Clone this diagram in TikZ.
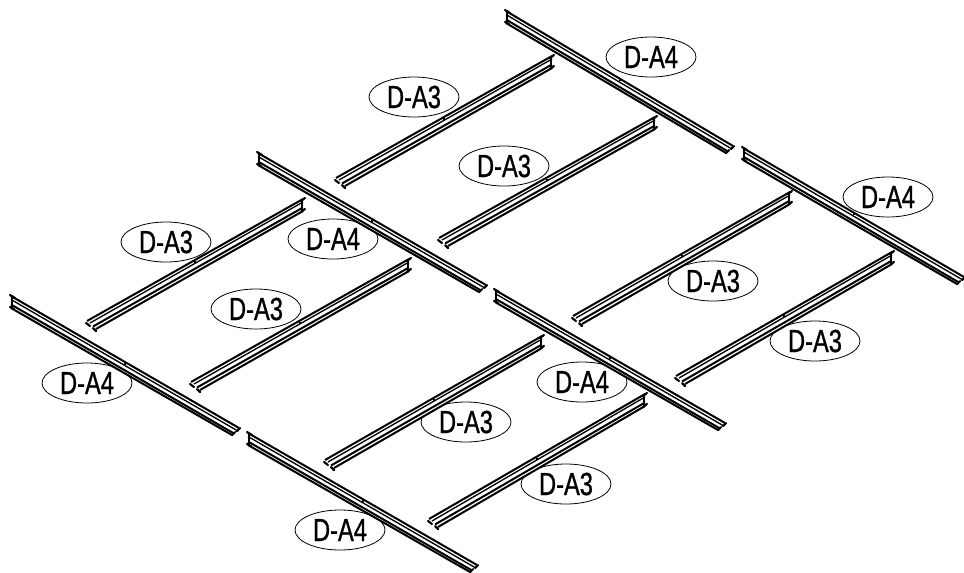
\documentclass[tikz,border=0pt]{standalone}
\usepackage{fontspec}
\usetikzlibrary{shapes.geometric}
\newfontfamily\labfont[FakeStretch=0.74,FakeBold=0.9]{Liberation Sans}
\tikzset{
  x=0.75pt,y=-0.75pt,
  tag/.style={draw,ellipse,fill=white,line width=0.6pt,minimum width=67.5pt,minimum height=30pt,inner sep=0pt,font=\labfont\fontsize{24}{24}\selectfont},
  heavy/.style={line width=1.5pt},
  light/.style={line width=1pt},
  capline/.style={line width=1.6pt,line cap=round},
}
% #1,#2 start of the top line (square end); #3,#4 run to the forked end
\newcommand\beamD[4]{%
  \fill[white] (#1,#2) -- ++(#3,#4) -- ++(-7,7) -- (#1,#2+11) -- cycle;
  \draw[heavy] (#1,#2-1) -- ++(#3,#4+1);
  \draw[light] (#1,#2+2.5) -- ++(#3-2,#4);
  \draw[heavy] (#1,#2+7.5) -- ++(#3-5,#4-2);
  \draw[heavy] (#1,#2+11) -- ++(#3-7,#4-4);
  \draw[capline] (#1-1,#2-2) -- ++(5,3);
  \draw[capline] (#1+1,#2) -- ++(0,11);
  \draw[capline] (#1-1,#2+10) -- ++(4,2);
  \draw[capline] (#1+#3+1,#2+#4) -- ++(-3,3);
  \draw[capline] (#1+#3-4,#2+#4+4) -- ++(-3,3);
  \draw[heavy] (#1+#3/2,#2+#4/2) -- ++(0,2);}
% #1,#2 forked end of the top line; #3,#4 run to the square end
\newcommand\beamU[4]{%
  \fill[white] (#1,#2) -- ++(#3,#4) -- ++(0,11) -- (#1+8,#2+9) -- cycle;
  \draw[heavy] (#1,#2-1) -- ++(#3,#4);
  \draw[light] (#1+3,#2+1) -- ++(#3-3,#4+1);
  \draw[heavy] (#1+6,#2+4.5) -- ++(#3-6,#4+3);
  \draw[heavy] (#1+9,#2+7) -- ++(#3-9,#4+4);
  \draw[capline] (#1-1,#2+1) -- ++(4,3);
  \draw[capline] (#1+6,#2+6) -- ++(3,3);
  \draw[capline] (#1+#3+2,#2+#4-2) -- ++(-4,3);
  \draw[capline] (#1+#3-1,#2+#4) -- ++(0,11);
  \draw[capline] (#1+#3+2,#2+#4+9) -- ++(-4,3);
  \draw[heavy] (#1+#3/2,#2+#4/2) -- ++(0,2);}
\begin{document}
\begin{tikzpicture}
\useasboundingbox (0,0) rectangle (964,572);
\node[tag] (t1) at (651,57) {D-A4};
\node[tag] (t2) at (414,97) {D-A3};
\node[tag] (t3) at (504,166) {D-A3};
\node[tag] (t4) at (888,197) {D-A4};
\node[tag] (t5) at (166,242) {D-A3};
\node[tag] (t6) at (333,239) {D-A4};
\node[tag] (t7) at (256,309) {D-A3};
\node[tag] (t8) at (713,281) {D-A3};
\node[tag] (t9) at (815,341) {D-A3};
\node[tag] (t10) at (87,383) {D-A4};
\node[tag] (t11) at (582,382) {D-A4};
\node[tag] (t12) at (466,422) {D-A3};
\node[tag] (t13) at (566,484) {D-A3};
\node[tag] (t14) at (340,530) {D-A4};
\beamD{11}{297}{228}{131}
\beamD{248}{434}{229}{131}
\beamD{258}{154}{228}{131}
\beamD{495}{291}{230}{132}
\beamD{506}{12}{227}{134}
\beamD{743}{149}{221}{128}
\beamU{336}{179}{216}{-122}
\beamU{439}{239}{216}{-121}
\beamU{87}{322}{216}{-122}
\beamU{191}{383}{218}{-123}
\beamU{573}{317}{217}{-124}
\beamU{676}{377}{216}{-124}
\beamU{325}{461}{217}{-124}
\beamU{429}{520}{216}{-125}
\end{tikzpicture}
\end{document}
